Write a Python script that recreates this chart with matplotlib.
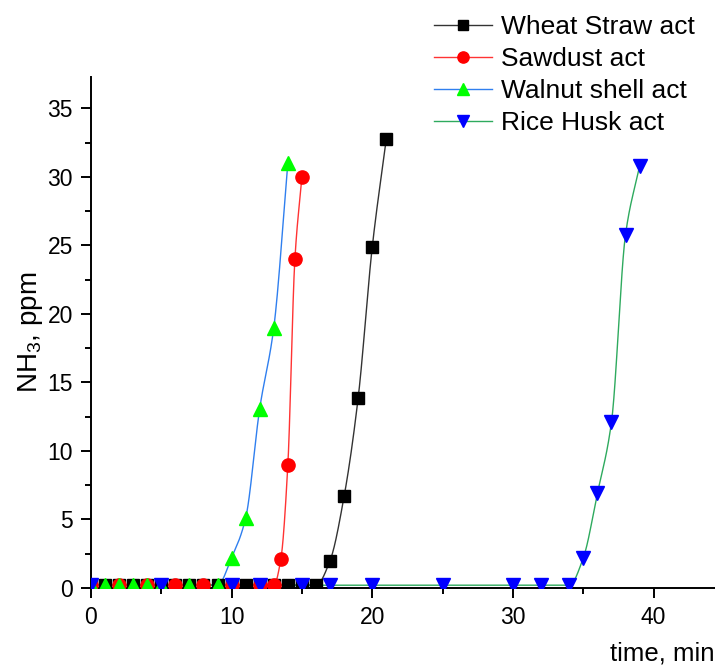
import numpy as np
import matplotlib
matplotlib.use("Agg")
import matplotlib.pyplot as plt
from matplotlib.ticker import MultipleLocator

plt.rcParams["font.family"] = ["Liberation Sans", "DejaVu Sans"]
plt.rcParams["mathtext.fontset"] = "custom"
plt.rcParams["mathtext.rm"] = "Liberation Sans"

# NH3 concentration (ppm) versus time (min) for each activated biochar
wheat_t = [0, 1, 2, 3, 4, 5, 6, 7, 8, 9, 10, 11, 12, 13, 14, 15, 16, 17, 18, 19, 20, 21]
wheat_y = [0.2] * 17 + [2.0, 6.7, 13.9, 24.9, 32.8]

sawdust_t = [0, 2, 4, 6, 8, 10, 12, 13, 13.5, 14, 14.5, 15]
sawdust_y = [0.2] * 8 + [2.1, 9.0, 24.0, 30.0]

walnut_t = [0, 1, 2, 3, 4, 5, 7, 9, 10, 11, 12, 13, 14]
walnut_y = [0.2] * 8 + [2.2, 5.1, 13.1, 19.0, 31.0]

rice_t = [0, 5, 10, 12, 15, 17, 20, 25, 30, 32, 34, 35, 36, 37, 38, 39]
rice_y = [0.2] * 11 + [2.2, 6.9, 12.1, 25.8, 30.8]

labels = ["Wheat Straw act", "Sawdust act", "Walnut shell act", "Rice Husk act"]
x_ticks = [0, 10, 20, 30, 40]
y_ticks = [0, 5, 10, 15, 20, 25, 30, 35]


def pchip_curve(x, y, n=24):
    """Monotone cubic Hermite curve through the points, for a smooth connecting line."""
    x = np.asarray(x, float)
    y = np.asarray(y, float)
    h = np.diff(x)
    d = np.diff(y) / h
    m = np.zeros_like(y)
    for k in range(1, len(x) - 1):
        if d[k - 1] * d[k] > 0:
            w1 = 2 * h[k] + h[k - 1]
            w2 = h[k] + 2 * h[k - 1]
            m[k] = (w1 + w2) / (w1 / d[k - 1] + w2 / d[k])
    m[0] = d[0]
    m[-1] = d[-1]
    xs, ys = [], []
    for k in range(len(x) - 1):
        s = np.linspace(0, 1, n, endpoint=False)
        h00 = 2 * s**3 - 3 * s**2 + 1
        h10 = s**3 - 2 * s**2 + s
        h01 = -2 * s**3 + 3 * s**2
        h11 = s**3 - s**2
        xs.append(x[k] + s * h[k])
        ys.append(h00 * y[k] + h10 * h[k] * m[k] + h01 * y[k + 1] + h11 * h[k] * m[k + 1])
    xs.append([x[-1]])
    ys.append([y[-1]])
    return np.concatenate(xs), np.concatenate(ys)


fig = plt.figure(figsize=(7.15, 6.70), dpi=100)
ax = fig.add_axes([0.1271, 0.1224, 0.8729, 0.7627])

series = [
    (wheat_t, wheat_y, "#333333", "s", "#000000", 8.5),
    (sawdust_t, sawdust_y, "#ff3333", "o", "#ff0000", 9.5),
    (walnut_t, walnut_y, "#2f7fef", "^", "#00ff00", 10.5),
    (rice_t, rice_y, "#2eaa5e", "v", "#0000ff", 10.5),
]

handles = []
for (t, y, lc, mk, mc, ms), lab in zip(series, labels):
    cx, cy = pchip_curve(t, y)
    ax.plot(cx, cy, color=lc, lw=1.0, zorder=2)
    ax.plot(t, y, ls="none", marker=mk, ms=ms, color=mc, mec=mc, zorder=3)
    handles.append(plt.Line2D([], [], color=lc, lw=1.0, marker=mk, ms=ms * 0.85,
                              mfc=mc, mec=mc))

ax.set_xlim(0, 44.36)
ax.set_ylim(0, 37.3)
ax.set_xticks(x_ticks)
ax.set_yticks(y_ticks)
ax.xaxis.set_minor_locator(MultipleLocator(5))
ax.yaxis.set_minor_locator(MultipleLocator(2.5))

for side in ("top", "right"):
    ax.spines[side].set_visible(False)
for side in ("left", "bottom"):
    ax.spines[side].set_linewidth(1.4)

ax.tick_params(which="major", direction="out", length=7, width=1.4, labelsize=16.5, pad=6)
ax.tick_params(which="minor", direction="out", length=4, width=1.4)

ax.set_ylabel(r"NH$_\mathregular{3}$, ppm", fontsize=20, labelpad=2)
ax.set_xlabel("time, min", fontsize=18.5, loc="right", labelpad=9)

fig.legend(handles, labels, loc="upper left", bbox_to_anchor=(0.607, 0.978),
           frameon=False, fontsize=19, handlelength=2.2, handletextpad=0.35,
           labelspacing=0.31, borderaxespad=0, borderpad=0)

fig.savefig("out.png", dpi=100)
